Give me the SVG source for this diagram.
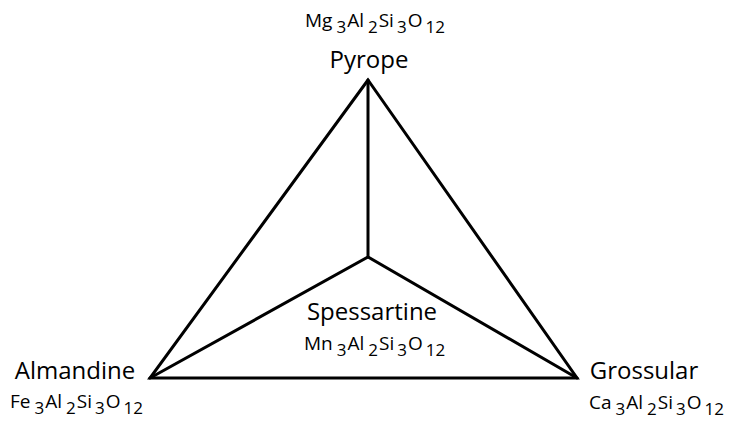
<svg xmlns="http://www.w3.org/2000/svg" width="732" height="421" viewBox="0 0 732 421">
<style>
.edge{stroke:#000;stroke-width:3;fill:none;stroke-linejoin:miter;stroke-linecap:round}
.name{font-family:"Open Sans","Liberation Sans",sans-serif;font-size:24px;fill:#000}
.f{font-family:"Open Sans","Liberation Sans",sans-serif;font-size:19px;fill:#000}
.s{font-size:17px}
</style>
<rect width="732" height="421" fill="#fff"/>
<g id="connectors">
<path class="edge" d="M368,80 L150,378 L577,378 Z"/>
<path class="edge" d="M368,80 L368,257"/>
<path class="edge" d="M150,378 L368,257 L577,378"/>
</g>
<g id="pyrope">
<text class="name" x="369" y="68" text-anchor="middle">Pyrope</text>
<text class="f" x="305" y="27">Mg<tspan class="s" dx="4" dy="6">3</tspan><tspan dx="1" dy="-6">Al</tspan><tspan class="s" dx="4" dy="6">2</tspan><tspan dx="1" dy="-6">Si</tspan><tspan class="s" dx="3" dy="6">3</tspan><tspan dx="1" dy="-6">O</tspan><tspan class="s" dx="3" dy="6">12</tspan></text>
</g>
<g id="almandine">
<text class="name" x="75" y="379" text-anchor="middle">Almandine</text>
<text class="f" x="10" y="408">Fe<tspan class="s" dx="4" dy="6">3</tspan><tspan dx="1" dy="-6">Al</tspan><tspan class="s" dx="4" dy="6">2</tspan><tspan dx="1" dy="-6">Si</tspan><tspan class="s" dx="3" dy="6">3</tspan><tspan dx="1" dy="-6">O</tspan><tspan class="s" dx="3" dy="6">12</tspan></text>
</g>
<g id="grossular">
<text class="name" x="644" y="379" text-anchor="middle">Grossular</text>
<text class="f" x="589" y="409">Ca<tspan class="s" dx="4" dy="6">3</tspan><tspan dx="1" dy="-6">Al</tspan><tspan class="s" dx="4" dy="6">2</tspan><tspan dx="1" dy="-6">Si</tspan><tspan class="s" dx="3" dy="6">3</tspan><tspan dx="1" dy="-6">O</tspan><tspan class="s" dx="3" dy="6">12</tspan></text>
</g>
<g id="spessartine">
<text class="name" x="372" y="320" text-anchor="middle">Spessartine</text>
<text class="f" x="304" y="350">Mn<tspan class="s" dx="4" dy="6">3</tspan><tspan dx="1" dy="-6">Al</tspan><tspan class="s" dx="4" dy="6">2</tspan><tspan dx="1" dy="-6">Si</tspan><tspan class="s" dx="3" dy="6">3</tspan><tspan dx="1" dy="-6">O</tspan><tspan class="s" dx="3" dy="6">12</tspan></text>
</g>
</svg>
